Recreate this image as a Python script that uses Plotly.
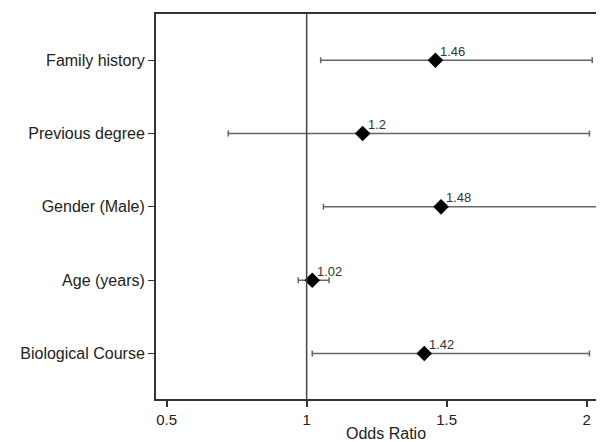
import plotly.graph_objects as go

categories = ["Family history", "Previous degree", "Gender (Male)", "Age (years)", "Biological Course"]
odds_ratio = [1.46, 1.20, 1.48, 1.02, 1.42]
ci_lower = [1.05, 0.72, 1.06, 0.97, 1.02]
ci_upper = [2.02, 2.01, 2.12, 1.08, 2.01]
or_labels = ["1.46", "1.2", "1.48", "1.02", "1.42"]
x_ticks = [0.5, 1, 1.5, 2]
x_tick_labels = ["0.5", "1", "1.5", "2"]

ypos = list(range(len(categories)))
FONT = "Arial, Liberation Sans"

fig = go.Figure()
fig.add_trace(go.Scatter(
    x=odds_ratio, y=ypos, mode="markers",
    marker=dict(symbol="diamond", size=12, color="black"),
    error_x=dict(type="data", symmetric=False,
                 array=[u - o for u, o in zip(ci_upper, odds_ratio)],
                 arrayminus=[o - l for o, l in zip(odds_ratio, ci_lower)],
                 color="#666", thickness=1.5, width=3),
    showlegend=False, cliponaxis=True,
))

for xv, yv, lab in zip(odds_ratio, ypos, or_labels):
    fig.add_annotation(x=xv, y=yv, text=lab, showarrow=False,
                       xanchor="left", yanchor="middle", xshift=3, yshift=9,
                       font=dict(family=FONT, size=13, color="#333"))

fig.add_annotation(xref="paper", yref="paper", x=0.513, y=0, yanchor="top",
                   yshift=-24, text="Odds Ratio", showarrow=False,
                   font=dict(family=FONT, size=16, color="#222"))

fig.add_shape(type="line", xref="x", yref="paper", x0=1, x1=1, y0=0, y1=1,
              line=dict(color="#444", width=1.5))

fig.update_layout(
    width=596, height=434,
    margin=dict(l=148, r=0, t=6, b=43),
    plot_bgcolor="white", paper_bgcolor="white",
    font=dict(family=FONT, color="#222"),
    xaxis=dict(range=[0.462, 2.062], tickvals=x_ticks, ticktext=x_tick_labels,
               showline=True, linecolor="#333", linewidth=2, mirror=True,
               ticks="outside", ticklen=6, tickcolor="#333", tickwidth=1.5,
               showgrid=False, zeroline=False, tickfont=dict(size=15),
               automargin=False),
    yaxis=dict(range=[4.62, -0.63], tickvals=ypos, ticktext=categories,
               showline=True, linecolor="#333", linewidth=2, mirror=False,
               ticks="outside", ticklen=6, tickcolor="#333",
               showgrid=False, zeroline=False, tickfont=dict(size=16),
               automargin=False),
)

fig.write_html("out.html")
